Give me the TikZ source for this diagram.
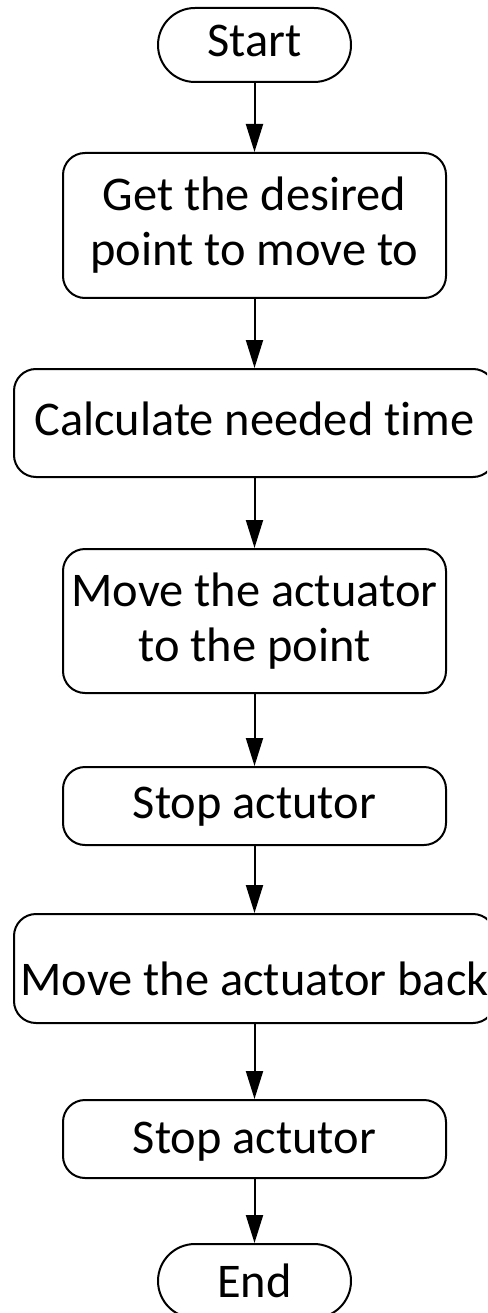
\documentclass[tikz,border=0pt]{standalone}
\usepackage{fontspec}
\setmainfont{Carlito}[Ligatures=NoCommon]
\usetikzlibrary{arrows.meta}
\begin{document}
\begin{tikzpicture}[x=1pt, y=-1pt,
  box/.style={draw, line width=2pt, rounded corners=22pt, align=center,
    inner sep=0pt, font=\fontsize{48.4}{55}\selectfont},
  oneline/.style={text height=32pt, text depth=8pt},
  narrow/.style={minimum width=383pt},
  wide/.style={minimum width=481pt},
  term/.style={box, oneline, rounded corners=37pt, minimum width=193pt, minimum height=74pt},
  flow/.style={line width=2pt, -{Triangle[length=28pt,width=17pt]}}]
\useasboundingbox (0,0) rectangle (487,1313);
\clip (0,0) rectangle (487,1313);

% process chain, top to bottom
\node[term] (start) at (254.5,45) {Start};
\node[box, narrow, minimum height=145pt] (get) at (254.5,225.5) {Get the desired\\point to move to};
\node[box, wide, oneline, minimum height=108pt] (calc) at (254.5,423) {Calculate needed time};
\node[box, narrow, minimum height=144pt] (move) at (254.5,621) {Move the actuator\\to the point};
\node[box, narrow, oneline, minimum height=78pt] (stopA) at (254.5,806) {Stop actutor};
\node[box, wide, oneline, text height=53pt, text depth=0pt, minimum height=109pt] (back) at (254.5,968.5) {Move the actuator back};
\node[box, narrow, oneline, text depth=4pt, minimum height=78pt] (stopB) at (254.5,1139) {Stop actutor};
\node[term, text depth=0pt] (end) at (254.5,1281) {End};

% connectors
\draw[flow] (start) -- (get);
\draw[flow] (get) -- (calc);
\draw[flow] (calc) -- (move);
\draw[flow] (move) -- (stopA);
\draw[flow] (stopA) -- (back);
\draw[flow] (back) -- (stopB);
\draw[flow] (stopB) -- (end);
\end{tikzpicture}
\end{document}
